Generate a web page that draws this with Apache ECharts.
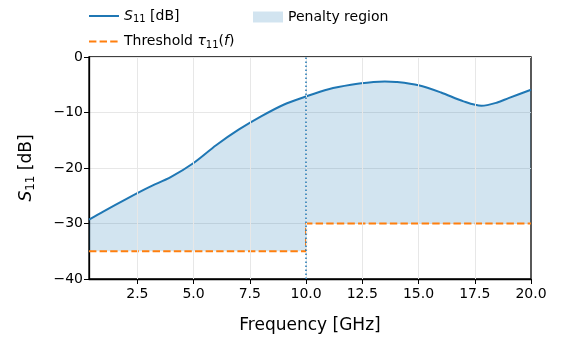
<!DOCTYPE html>
<html><head><meta charset="utf-8">
<script src="https://cdn.jsdelivr.net/npm/echarts@6/dist/echarts.min.js"></script>
<style>html,body{margin:0;padding:0;background:#fff}#c{width:564px;height:337px}</style>
</head><body><div id="c"></div>
<script>
// Data
const freqGHz = [0.35, 1.0, 2.0, 3.0, 4.0, 5.0, 6.0, 7.0, 8.0, 9.0, 10.0, 11.0, 12.0, 13.0, 13.5, 14.0, 15.0, 16.0, 17.0, 17.8, 18.5, 19.0, 20.0];
const s11dB   = [-29.3, -27.8, -25.6, -23.5, -21.6, -19.1, -15.9, -13.1, -10.7, -8.6, -7.1, -5.8, -5.0, -4.5, -4.4, -4.5, -5.1, -6.4, -8.0, -8.8, -8.2, -7.4, -5.9];
const threshF = [0.35, 10, 10, 20];
const threshV = [-35, -35, -30, -30];
const markerF = 10;
const xTicks = [2.5, 5.0, 7.5, 10.0, 12.5, 15.0, 17.5, 20.0];

const FONT = 'DejaVu Sans';
const C0 = '#1f77b4', C1 = '#ff7f0e';
const s11Data = freqGHz.map((f, i) => [f, s11dB[i]]);
const thrData = threshF.map((f, i) => [f, threshV[i]]);

const rich = {
  i: {fontStyle: 'italic', fontSize: 14, fontFamily: FONT, color: '#000'},
  s: {fontSize: 10, fontFamily: FONT, color: '#000', padding: [7, 0, 0, 0]},
  n: {fontSize: 14, fontFamily: FONT, color: '#000'}
};

const chart = echarts.init(document.getElementById('c'), null, {renderer: 'canvas'});
chart.setOption({
  animation: false,
  backgroundColor: '#fff',
  grid: {left: 89, right: 33, top: 57, bottom: 58, outerBoundsMode: 'none', containLabel: false,
    show: true, borderColor: '#000', borderWidth: 1.3, backgroundColor: 'transparent'},
  legend: [{
    left: 83, top: 4, orient: 'vertical', itemWidth: 30, itemHeight: 14, itemGap: 10,
    itemStyle: {opacity: 0, borderWidth: 0},
    data: ['S11', 'Threshold'],
    textStyle: {fontSize: 14, fontFamily: FONT, color: '#000', rich: rich},
    formatter: function (name) {
      if (name === 'S11') return '{i|S}{s|11}{n| [dB]}';
      return '{n|Threshold }{i|τ}{s|11}{n|(}{i|f}{n|)}';
    }
  }, {
    left: 248, top: 5, itemWidth: 30, itemHeight: 11,
    data: [{name: 'Penalty region', icon: 'rect'}],
    textStyle: {fontSize: 14, fontFamily: FONT, color: '#000'}
  }],
  xAxis: {
    type: 'value', min: 0.35, max: 20,
    name: 'Frequency [GHz]', nameLocation: 'middle', nameGap: 38,
    nameTextStyle: {fontSize: 17, fontFamily: FONT, color: '#000'},
    axisLine: {show: true, onZero: false, lineStyle: {color: '#000', width: 1.3}},
    axisTick: {show: true, length: 5, customValues: xTicks, lineStyle: {color: '#000', width: 1}},
    axisLabel: {customValues: xTicks, fontSize: 14, fontFamily: FONT, color: '#000', margin: 8,
      formatter: v => v.toFixed(1)},
    splitLine: {show: false}
  },
  yAxis: {
    type: 'value', min: -40, max: 0, interval: 10,
    name: '{i|S}{s|11}{n| [dB]}', nameLocation: 'middle', nameGap: 52,
    nameTextStyle: {fontSize: 17, fontFamily: FONT, color: '#000', rich: {
      i: {fontStyle: 'italic', fontSize: 17, fontFamily: FONT, color: '#000'},
      s: {fontSize: 12, fontFamily: FONT, color: '#000', padding: [8, 0, 0, 0]},
      n: {fontSize: 17, fontFamily: FONT, color: '#000'}
    }},
    axisLine: {show: true, lineStyle: {color: '#000', width: 1.3}},
    axisTick: {show: true, length: 5, lineStyle: {color: '#000', width: 1}},
    axisLabel: {fontSize: 14, fontFamily: FONT, color: '#000', margin: 6,
      formatter: v => (v < 0 ? '\u2212' + Math.abs(v) : String(v))},
    splitLine: {show: true, lineStyle: {color: '#e7e7e7', width: 1}}
  },
  series: [{
    name: 'Penalty region', type: 'custom', z: 1, clip: true,
    itemStyle: {color: 'rgba(31,119,180,0.2)'},
    data: [[threshF[0], threshV[0]]],
    renderItem: function (params, api) {
      const pts = [];
      for (let i = 0; i < freqGHz.length; i++) pts.push(api.coord([freqGHz[i], s11dB[i]]));
      for (let i = threshF.length - 1; i >= 0; i--) pts.push(api.coord([threshF[i], threshV[i]]));
      return {type: 'polygon', shape: {points: pts}, style: {fill: 'rgba(31,119,180,0.2)', stroke: null}};
    }
  }, {
    name: 'gridx', type: 'line', data: [], z: 0, silent: true,
    markLine: {silent: true, symbol: 'none', label: {show: false},
      lineStyle: {color: '#e7e7e7', width: 1, type: 'solid'},
      data: xTicks.slice(0, -1).map(v => ({xAxis: v}))}
  }, {
    name: 'Threshold', type: 'line', data: thrData, showSymbol: false, symbol: 'none', z: 3,
    itemStyle: {color: C1},
    lineStyle: {color: C1, width: 2, type: [7.4, 3.2]}
  }, {
    name: 'S11', type: 'line', data: s11Data, showSymbol: false, symbol: 'none', z: 4,
    smooth: 0.3,
    itemStyle: {color: C0},
    lineStyle: {color: C0, width: 2},
    markLine: {silent: true, symbol: 'none', label: {show: false},
      lineStyle: {color: C0, width: 1.5, type: [1.5, 2.5]},
      data: [{xAxis: markerF}]}
  }]
});
</script></body></html>
